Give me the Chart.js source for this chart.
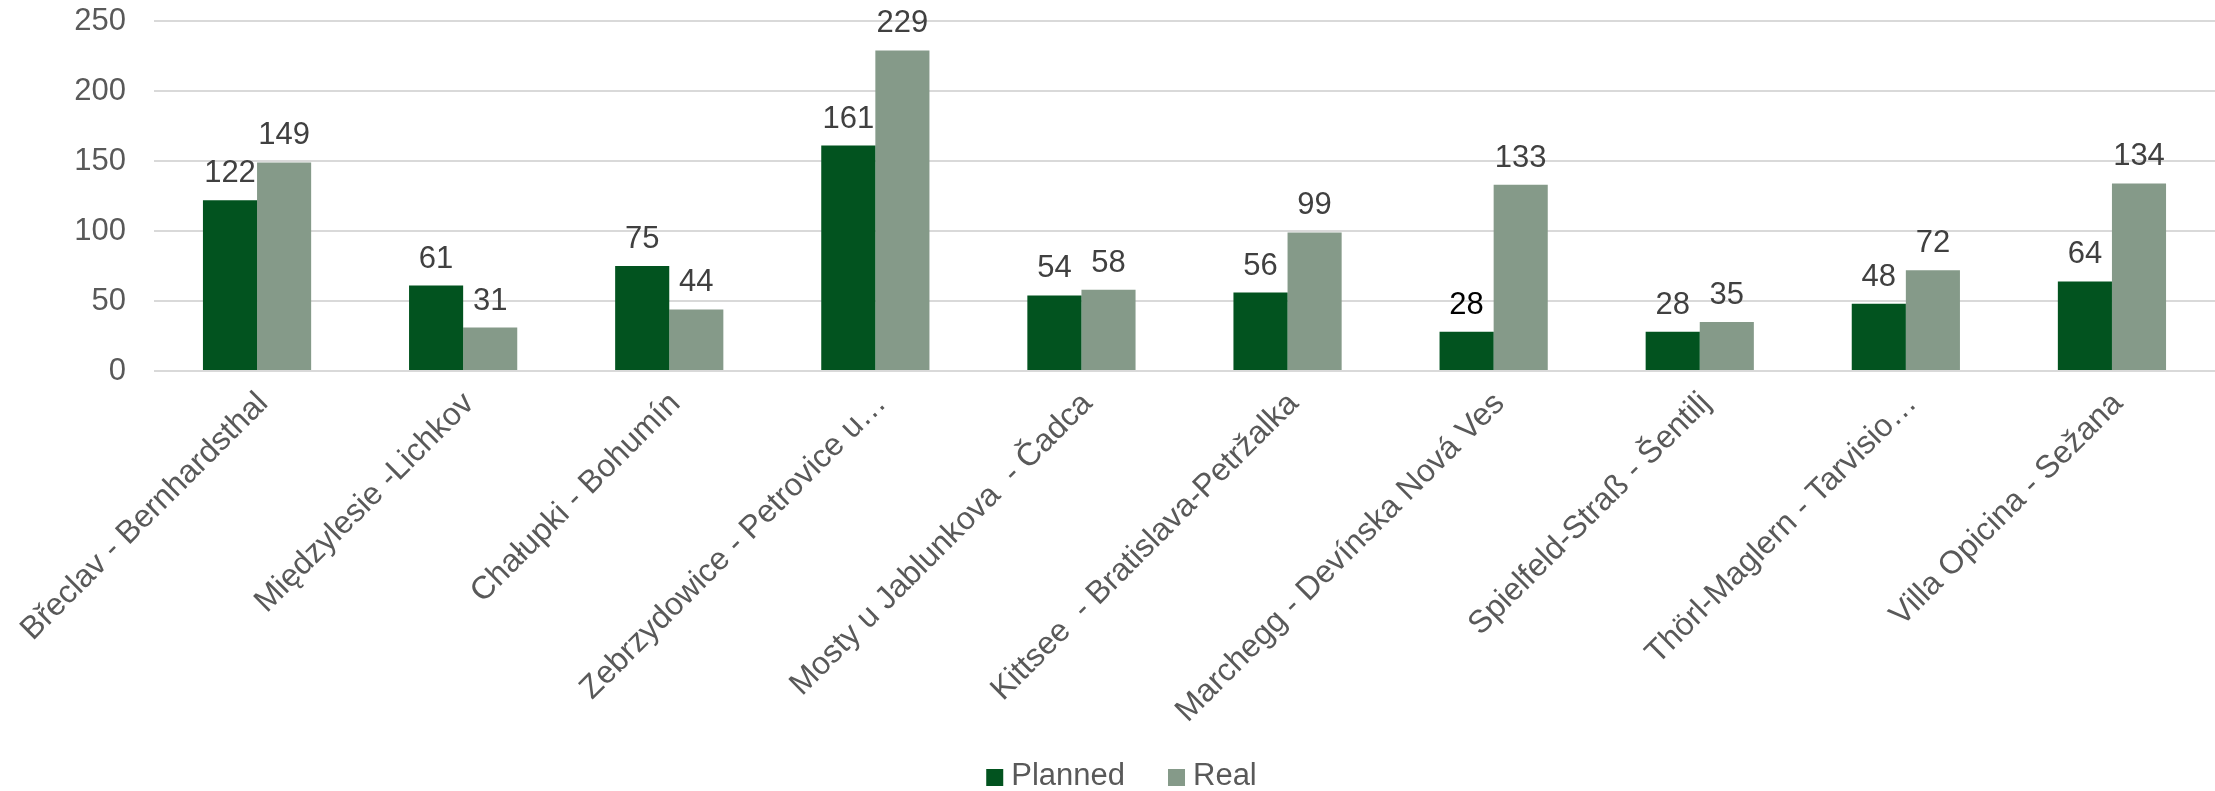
<!DOCTYPE html>
<html>
<head>
<meta charset="utf-8">
<title>Planned vs Real</title>
<script src="https://cdn.jsdelivr.net/npm/chart.js@4.4.1/dist/chart.umd.min.js"></script>
<style>
  html, body { margin: 0; padding: 0; background: #ffffff; }
  #wrap { width: 2215px; height: 791px; }
</style>
</head>
<body>
<div id="wrap"><canvas id="chart" width="2215" height="791"></canvas></div>
<script>
// Border crossings
const categories = [
  'Břeclav - Bernhardsthal',
  'Międzylesie -Lichkov',
  'Chałupki - Bohumín',
  'Zebrzydowice - Petrovice u…',
  'Mosty u Jablunkova  - Čadca',
  'Kittsee  - Bratislava-Petržalka',
  'Marchegg - Devínska Nová Ves',
  'Spielfeld-Straß - Šentilj',
  'Thörl-Maglern - Tarvisio…',
  'Villa Opicina - Sežana'
];

// Series values
const planned = [122, 61, 75, 161, 54, 56, 28, 28, 48, 64];
const real = [149, 31, 44, 229, 58, 99, 133, 35, 72, 134];

// Value axis ticks
const yTicks = [0, 50, 100, 150, 200, 250];

const FONT = '"Liberation Sans", Arial, sans-serif';
const PLANNED_COLOR = '#02531F';
const REAL_COLOR = '#859A89';

// Value labels above each bar
const barValueLabels = {
  id: 'barValueLabels',
  afterDatasetsDraw(chart) {
    const ctx = chart.ctx;
    ctx.save();
    ctx.font = '31px ' + FONT;
    ctx.textAlign = 'center';
    ctx.textBaseline = 'alphabetic';
    chart.data.datasets.forEach((ds, di) => {
      const meta = chart.getDatasetMeta(di);
      meta.data.forEach((bar, i) => {
        const colors = ds.valueLabelColors;
        ctx.fillStyle = colors ? colors[i] : '#404040';
        ctx.fillText(String(ds.data[i]), bar.x, bar.y - 18);
      });
    });
    ctx.restore();
  }
};

// Legend row under the chart
const bottomLegend = {
  id: 'bottomLegend',
  afterDraw(chart) {
    const ctx = chart.ctx;
    const box = 17, textGap = 25, itemGap = 26;
    const baseline = chart.height - 6;
    const centerX = 1130;
    ctx.save();
    ctx.font = '31px ' + FONT;
    ctx.textBaseline = 'alphabetic';
    ctx.textAlign = 'left';
    const items = chart.data.datasets.map(ds => ({
      label: ds.label, color: ds.backgroundColor, w: ctx.measureText(ds.label).width
    }));
    let total = 0;
    items.forEach((it, i) => { total += box + textGap + it.w + (i < items.length - 1 ? itemGap : 0); });
    let x = centerX - total / 2;
    items.forEach(it => {
      ctx.fillStyle = it.color;
      ctx.fillRect(x, baseline - 16, box, box);
      ctx.fillStyle = '#595959';
      ctx.fillText(it.label, x + textGap, baseline);
      x += box + textGap + it.w + itemGap;
    });
    ctx.restore();
  }
};

new Chart(document.getElementById('chart'), {
  type: 'bar',
  data: {
    labels: categories,
    datasets: [
      {
        label: 'Planned',
        data: planned,
        backgroundColor: PLANNED_COLOR,
        valueLabelColors: planned.map((v, i) => i === 6 ? '#000000' : '#404040'),
        categoryPercentage: 0.525,
        barPercentage: 1.0
      },
      {
        label: 'Real',
        data: real,
        backgroundColor: REAL_COLOR,
        categoryPercentage: 0.525,
        barPercentage: 1.0
      }
    ]
  },
  options: {
    responsive: false,
    animation: false,
    layout: { padding: { top: 21, bottom: 50, left: 0, right: 0 } },
    plugins: {
      legend: { display: false },
      tooltip: { enabled: false }
    },
    scales: {
      x: {
        grid: { display: false, drawTicks: false },
        border: { display: false },
        ticks: {
          autoSkip: false,
          minRotation: 45,
          maxRotation: 45,
          padding: 14,
          labelOffset: 6,
          color: '#595959',
          font: { family: FONT, size: 32 }
        },
        afterFit(axis) {
          axis.height = 370;
          axis.paddingLeft = 0;
          axis.paddingRight = 0;
        }
      },
      y: {
        min: yTicks[0],
        max: yTicks[yTicks.length - 1],
        afterBuildTicks(axis) { axis.ticks = yTicks.map(v => ({ value: v })); },
        grid: { color: '#d9d9d9', lineWidth: 2, drawTicks: false },
        border: { display: false },
        ticks: {
          padding: 28,
          color: '#595959',
          font: { family: FONT, size: 31 }
        },
        afterFit(axis) {
          axis.width = 154;
          axis.paddingTop = 0;
          axis.paddingBottom = 0;
        }
      }
    }
  },
  plugins: [barValueLabels, bottomLegend]
});
</script>
</body>
</html>
